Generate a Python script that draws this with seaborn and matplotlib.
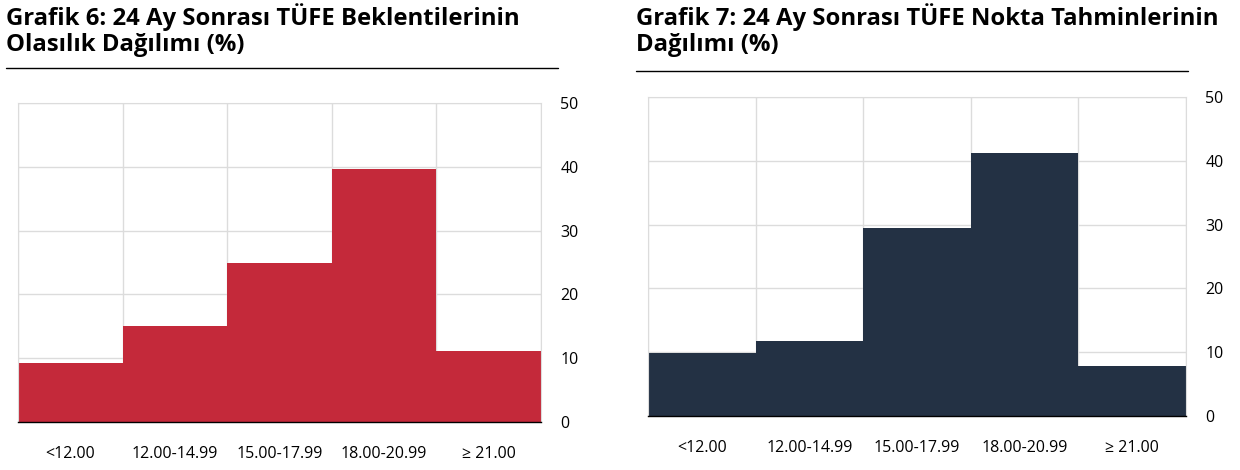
import matplotlib
matplotlib.use("Agg")
import matplotlib.pyplot as plt
import seaborn as sns
import pandas as pd
from matplotlib.lines import Line2D

# bins of the 24-month CPI expectation
categories = ["<12.00", "12.00-14.99", "15.00-17.99", "18.00-20.99", "≥ 21.00"]
prob_dist = [9.2, 15.0, 25.0, 39.6, 11.1]      # Grafik 6
point_dist = [9.8, 11.8, 29.4, 41.3, 7.8]      # Grafik 7
yticks = [0, 10, 20, 30, 40, 50]

title6 = "Grafik 6: 24 Ay Sonrası TÜFE Beklentilerinin\nOlasılık Dağılımı (%)"
title7 = "Grafik 7: 24 Ay Sonrası TÜFE Nokta Tahminlerinin\nDağılımı (%)"

sns.set_style("white")
plt.rcParams["font.family"] = ["Open Sans", "DejaVu Sans"]
plt.rcParams["text.color"] = "black"
plt.rcParams["xtick.color"] = "black"
plt.rcParams["ytick.color"] = "black"

W, H = 1240, 470
fig = plt.figure(figsize=(12.4, 4.7), dpi=100)


def box(x0, y0, x1, y1):
    # pixel box -> figure fraction
    return [x0 / W, 1 - y1 / H, (x1 - x0) / W, (y1 - y0) / H]


def panel(rect, values, color, title, tx, line_y, line_x1):
    ax = fig.add_axes(rect)
    df = pd.DataFrame({"cat": categories, "val": values})
    sns.barplot(data=df, x="cat", y="val", color=color, width=1.0,
                saturation=1, linewidth=0, ax=ax, zorder=2)
    ax.set_xlim(-0.5, len(categories) - 0.5)
    ax.set_ylim(0, 50)
    ax.set_yticks(yticks)
    ax.yaxis.tick_right()
    ax.set_xlabel("")
    ax.set_ylabel("")
    ax.set_xticks(range(len(categories)))
    ax.set_xticklabels(categories)
    ax.set_xticks([i - 0.5 for i in range(len(categories) + 1)], minor=True)
    ax.tick_params(axis="x", which="major", length=0, pad=17, labelsize=11.5)
    ax.tick_params(axis="x", which="minor", length=8, width=1, color="black",
                   direction="out")
    ax.tick_params(axis="y", length=0, pad=14, labelsize=11.5)
    ax.grid(axis="y", which="major", color="#dcdcdc", lw=1, zorder=0)
    ax.grid(axis="x", which="minor", color="#dcdcdc", lw=1, zorder=0)
    ax.grid(axis="x", which="major", visible=False)
    ax.set_axisbelow(True)
    for s in ["left", "right", "top"]:
        ax.spines[s].set_color("#dcdcdc")
    ax.spines["bottom"].set_color("black")
    ax.spines["bottom"].set_linewidth(1)
    fig.text(tx / W, 1 - 3 / H, title, ha="left", va="top", fontsize=17.2,
             fontweight="bold", linespacing=1.12, color="black")
    fig.add_artist(Line2D([tx / W, line_x1 / W], [1 - line_y / H] * 2,
                          color="black", lw=1))
    return ax


panel(box(18, 103, 541, 422), prob_dist, "#C4293A", title6, 6, 68, 558)
panel(box(648, 97, 1186, 416), point_dist, "#233144", title7, 636, 71, 1188)

fig.savefig("out.png", dpi=100, facecolor="white")
